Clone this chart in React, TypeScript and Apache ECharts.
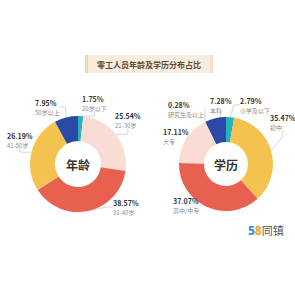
import React, { useEffect, useRef } from "react";
import * as echarts from "echarts";

const title = "零工人员年龄及学历分布占比";
const ageNames = ["20岁以下", "21-30岁", "31-40岁", "41-50岁", "50岁以上"];
const ageValues = [1.75, 25.54, 38.57, 26.19, 7.95];
const ageColors = ["#25b3bd", "#f9dcd3", "#e8604f", "#f3c24f", "#2b4aa6"];
const eduNames = ["小学及以下", "初中", "高中/中专", "大专", "研究生及以上", "本科"];
const eduValues = [2.79, 35.47, 37.07, 17.11, 0.28, 7.28];
const eduColors = ["#25b3bd", "#f3c24f", "#e8604f", "#f9dcd3", "#f4e6e0", "#2b4aa6"];

// label block anchor positions (left x, middle y)
const ageLabelPos = [
  [82, 103],
  [115, 120],
  [113, 207],
  [7, 140],
  [35, 107],
];
const eduLabelPos = [
  [240, 105],
  [270, 122],
  [173, 205],
  [163, 136],
  [168, 109],
  [210, 105],
];

export default function App() {
  const ref = useRef<HTMLDivElement>(null);
  useEffect(() => {
    const chart = echarts.init(ref.current!, null, { renderer: "svg" });
    const label = {
      show: true,
      position: "outside",
      formatter: "{p|{c}%}\n{n|{b}}",
      align: "left",
      rich: {
        p: { fontSize: 7, fontWeight: "bold", color: "#333", fontFamily: "Noto Sans CJK SC", lineHeight: 10, align: "left" },
        n: { fontSize: 6, color: "#888", fontFamily: "Noto Sans CJK SC", lineHeight: 9, align: "left" },
      },
    };
    const labelLine = { show: true, length: 6, length2: 6, lineStyle: { color: "#bbb", width: 0.6 } };
    const mk = (names: string[], vals: number[], colors: string[]) =>
      names.map((n, i) => ({ name: n, value: vals[i], itemStyle: { color: colors[i] } }));
    const layoutFrom = (pos: number[][]) => (params: any) => {
      const p = pos[params.dataIndex];
      return { x: p[0], y: p[1], align: "left", verticalAlign: "middle" };
    };
    chart.setOption({
      animation: false,
      backgroundColor: "#ffffff",
      graphic: [
        { type: "rect", shape: { x: 85, y: 55, width: 128, height: 18 }, style: { fill: "#f8ecdc" } },
        { type: "rect", shape: { x: 85, y: 55, width: 3, height: 18 }, style: { fill: "#efd6b4" } },
        { type: "rect", shape: { x: 210, y: 55, width: 3, height: 18 }, style: { fill: "#f3e0c8" } },
        {
          type: "text",
          x: 149,
          y: 64,
          style: { text: title, fontSize: 8, fontWeight: "bold", fill: "#5a4a3a", align: "center", verticalAlign: "middle", fontFamily: "Noto Sans CJK SC" },
        },
        {
          type: "text",
          x: 78,
          y: 164,
          style: { text: "年龄", fontSize: 12, fontWeight: "bold", fill: "#333", align: "center", verticalAlign: "middle", fontFamily: "Noto Sans CJK SC" },
        },
        {
          type: "text",
          x: 226,
          y: 164,
          style: { text: "学历", fontSize: 12, fontWeight: "bold", fill: "#333", align: "center", verticalAlign: "middle", fontFamily: "Noto Sans CJK SC" },
        },
        {
          type: "text",
          x: 248,
          y: 230,
          style: {
            text: "{a|5}{b|8}{c|同镇}",
            verticalAlign: "middle",
            rich: {
              a: { fontSize: 12, fontWeight: "bold", fill: "#2a8ee0", fontFamily: "Noto Sans" },
              b: { fontSize: 12, fontWeight: "bold", fill: "#f5a623", fontFamily: "Noto Sans" },
              c: { fontSize: 11, fill: "#555", fontFamily: "Noto Sans CJK SC" },
            },
          },
        },
      ],
      series: [
        {
          type: "pie",
          center: [78, 164],
          radius: [23, 48],
          startAngle: 90,
          clockwise: true,
          avoidLabelOverlap: false,
          label,
          labelLine,
          labelLayout: layoutFrom(ageLabelPos),
          emphasis: { disabled: true },
          data: mk(ageNames, ageValues, ageColors),
        },
        {
          type: "pie",
          center: [226, 164],
          radius: [22, 47],
          startAngle: 90,
          clockwise: true,
          avoidLabelOverlap: false,
          label,
          labelLine,
          labelLayout: layoutFrom(eduLabelPos),
          emphasis: { disabled: true },
          data: mk(eduNames, eduValues, eduColors),
        },
      ],
    });
    return () => chart.dispose();
  }, []);
  return <div ref={ref} style={{ position: "fixed", left: 0, top: 0, width: 295, height: 295 }} />;
}
